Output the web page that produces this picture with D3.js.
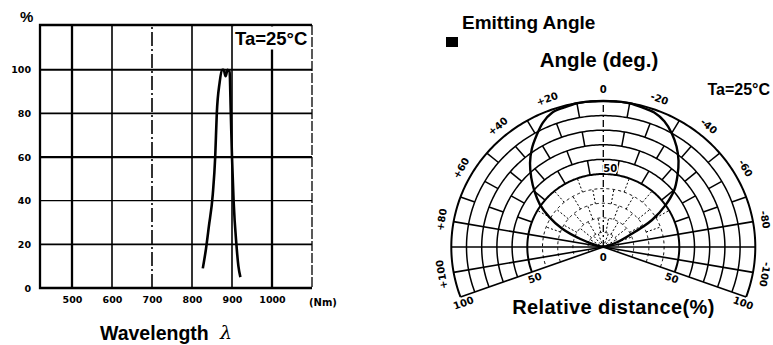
<!DOCTYPE html>
<html>
<head>
<meta charset="utf-8">
<script src="https://cdn.jsdelivr.net/npm/d3@7"></script>
<style>
  html, body { margin: 0; padding: 0; background: #fff; }
  svg { display: block; }
  .tick text { font-family: "DejaVu Sans", sans-serif; font-weight: bold; font-size: 9.5px; fill: #000; }
  .title { font-family: "Liberation Sans", Arial, sans-serif; font-weight: bold; fill: #000; }
  .small { font-family: "DejaVu Sans", sans-serif; font-weight: bold; font-size: 10px; fill: #000; }
</style>
</head>
<body>
<svg id="chart" width="773" height="345"></svg>
<script>
// ---- spectral response (left chart) ----
const wavelengths = [827, 835, 842, 852, 858, 862, 869, 875, 879, 884, 889, 894, 897, 900, 904, 911, 916, 921];
const intensity   = [9, 18, 28, 43, 60, 80, 94, 100, 100, 97, 100, 99, 80, 60, 40, 20, 10, 5];
const xTicks = [500, 600, 700, 800, 900, 1000];
const yTicks = [0, 20, 40, 60, 80, 100];

// ---- emitting angle (right chart) ----
const emitAngles = [-80, -75, -70, -65, -60, -55, -50, -45, -40, -35, -30, -25, -20, -15, -10, -5, 0,
                    5, 10, 15, 20, 25, 30, 35, 40, 45, 50, 55, 60, 65, 70, 75, 80];
const emitValues = [0, 2, 10, 19, 37, 50, 61, 69, 77, 84, 90, 95, 98, 99, 100, 100, 100,
                    100, 100, 99, 98, 94, 88, 82, 75, 67, 59, 51, 41, 30, 16, 5, 0];
const angleTicks = [-100, -80, -60, -40, -20, 0, 20, 40, 60, 80, 100];
const ringValues = [10, 20, 30, 40, 50, 60, 70, 80, 90, 100];
const distanceLabels = [50, 100];

const svg = d3.select('#chart');

/*************** Left chart ***************/
const plot = {left: 40, right: 312, top: 25, bottom: 288};

const x = d3.scaleLinear().domain([420, 1100]).range([plot.left, plot.right]);
const y = d3.scaleLinear().domain([0, 120.5]).range([plot.bottom, plot.top]);

// line weights
const vWidth = v => (v === 500 || v === 1000) ? 2.3 : 1.6;
const hWidth = v => (v === 100 || v === 60) ? 2.2 : (v === 40 ? 1.3 : 1.7);

const grid = svg.append('g');

grid.selectAll('.vgrid')
    .data(xTicks)
    .enter().append('line')
    .attr('x1', d => x(d)).attr('x2', d => x(d))
    .attr('y1', y(0)).attr('y2', plot.top)
    .attr('stroke', '#000')
    .attr('stroke-width', d => vWidth(d))
    .attr('stroke-dasharray', d => d === 700 ? '14,3,2,3' : null);

grid.selectAll('.hgrid')
    .data(yTicks.filter(d => d > 0))
    .enter().append('line')
    .attr('x1', plot.left).attr('x2', plot.right)
    .attr('y1', d => y(d)).attr('y2', d => y(d))
    .attr('stroke', '#000')
    .attr('stroke-width', d => hWidth(d));

// frame: heavy top/left/bottom, light dashed right side
svg.append('path')
    .attr('d', `M${plot.right},${plot.top}H${plot.left}V${plot.bottom}H${plot.right}`)
    .attr('fill', 'none').attr('stroke', '#000').attr('stroke-width', 2.3);
svg.append('line')
    .attr('x1', plot.right).attr('x2', plot.right)
    .attr('y1', plot.top).attr('y2', plot.bottom)
    .attr('stroke', '#000').attr('stroke-width', 1.3)
    .attr('stroke-dasharray', '10,2');

// clear patch under the temperature note
svg.append('rect')
    .attr('x', 234).attr('y', plot.top + 1.5)
    .attr('width', 76).attr('height', 23)
    .attr('fill', '#fff');
svg.append('text')
    .attr('class', 'title')
    .attr('x', 235).attr('y', 45)
    .style('font-size', '18.5px')
    .text('Ta=25°C');

// axes (labels only)
svg.append('g')
    .attr('transform', `translate(${plot.left},0)`)
    .call(d3.axisLeft(y).tickValues(yTicks).tickSize(0).tickPadding(9))
    .call(g => g.select('.domain').remove());

svg.append('g')
    .attr('transform', `translate(0,${plot.bottom})`)
    .call(d3.axisBottom(x).tickValues(xTicks).tickFormat(d3.format('d')).tickSize(0).tickPadding(8))
    .call(g => g.select('.domain').remove());

svg.append('text')
    .attr('class', 'small')
    .attr('x', 309).attr('y', 306)
    .text('(Nm)');

svg.append('text')
    .attr('class', 'title')
    .attr('x', 20).attr('y', 22)
    .style('font-size', '15px')
    .text('%');

// spectrum curve
const spectrum = d3.line()
    .x((d, i) => x(wavelengths[i]))
    .y(d => y(d))
    .curve(d3.curveMonotoneX);

svg.append('path')
    .datum(intensity)
    .attr('d', spectrum)
    .attr('fill', 'none')
    .attr('stroke', '#000')
    .attr('stroke-width', 2.6);

svg.append('text')
    .attr('class', 'title')
    .attr('x', 100).attr('y', 339.5)
    .style('font-size', '19.5px')
    .text('Wavelength');
svg.append('text')
    .attr('x', 220).attr('y', 338.5)
    .style('font-family', '"DejaVu Serif", serif')
    .style('font-style', 'italic')
    .style('font-size', '19px')
    .text('λ');

/*************** Right chart (polar) ***************/
const cx = 603.3, cy = 247;
const rX = d3.scaleLinear().domain([0, 100]).range([0, 152]);
const rY = d3.scaleLinear().domain([0, 100]).range([0, 146]);
const rad = a => a * Math.PI / 180;
const pt = (a, r) => [cx - Math.sin(rad(a)) * rX(r), cy - Math.cos(rad(a)) * rY(r)];
const maxAngle = 110;

const polar = svg.append('g');
const lineGen = d3.line();

// rings
polar.selectAll('.ring')
    .data(ringValues)
    .enter().append('path')
    .attr('d', r => lineGen(d3.range(-maxAngle, maxAngle + 0.5, 1).map(a => pt(a, r))))
    .attr('fill', 'none')
    .attr('stroke', '#000')
    .attr('stroke-width', r => (r === 100 || r === 50) ? 2 : (r > 50 ? 1.5 : 1))
    .attr('stroke-dasharray', r => r < 50 ? '3,3' : null);

// full-length spokes
const fullSpokes = [-110, -100, -90, -80, 0, 80, 90, 100, 110];
polar.selectAll('.spoke')
    .data(fullSpokes)
    .enter().append('path')
    .attr('d', a => lineGen([pt(a, 0), pt(a, 100)]))
    .attr('stroke', '#000')
    .attr('stroke-width', a => a === 0 ? 1.3 : 1.6)
    .attr('stroke-dasharray', a => a === 0 ? '7,3,2,3' : null);

// staggered (brick) spoke segments between rings
const segs = [];
ringValues.forEach((r, k) => {
  const inner = r - 10;
  d3.range(-70, 71, 10).forEach(a => {
    if (a === 0) return;
    if ((Math.abs(a) / 10 + (9 - k)) % 2 === 1) segs.push({a, r0: inner, r1: r});
  });
});
polar.selectAll('.seg')
    .data(segs)
    .enter().append('path')
    .attr('d', s => lineGen([pt(s.a, s.r0), pt(s.a, s.r1)]))
    .attr('stroke', '#000')
    .attr('stroke-width', s => s.r1 > 50 ? 1.5 : 1)
    .attr('stroke-dasharray', s => s.r1 > 50 ? null : '2,2');

// emission lobe
polar.append('path')
    .datum(emitAngles.map((a, i) => pt(a, emitValues[i])))
    .attr('d', d3.line().curve(d3.curveCatmullRom))
    .attr('fill', 'none')
    .attr('stroke', '#000')
    .attr('stroke-width', 2.4);

// angle labels
polar.selectAll('.alabel')
    .data(angleTicks)
    .enter().append('text')
    .attr('class', 'small')
    .attr('text-anchor', 'middle')
    .attr('dominant-baseline', 'central')
    .attr('transform', a => {
      const p = pt(a, 108);
      return `translate(${p[0]},${p[1]}) rotate(${-a})`;
    })
    .text(a => a > 0 ? '+' + a : (a < 0 ? '-' + (-a) : '0'));

// distance labels along both lower edges
[-maxAngle, maxAngle].forEach(edge => {
  const rot = Math.sign(edge) * 90 - edge;
  polar.selectAll(null)
      .data(distanceLabels)
      .enter().append('text')
      .attr('class', 'small')
      .attr('text-anchor', 'middle')
      .attr('dominant-baseline', 'central')
      .attr('transform', r => {
        const p = pt(edge, r);
        return `translate(${p[0] + (edge > 0 ? 3 : -3)},${p[1] + 6}) rotate(${rot})`;
      })
      .text(r => r);
});

const top50 = pt(0, 50);
polar.append('text')
    .attr('class', 'small')
    .attr('x', top50[0] + 7).attr('y', top50[1] - 6)
    .attr('text-anchor', 'middle')
    .attr('dominant-baseline', 'central')
    .attr('stroke', '#fff').attr('stroke-width', 3).attr('paint-order', 'stroke')
    .text('50');

polar.append('text')
    .attr('class', 'small')
    .attr('x', cx).attr('y', cy + 10)
    .attr('text-anchor', 'middle')
    .attr('dominant-baseline', 'central')
    .text('0');

// titles
svg.append('rect')
    .attr('x', 446).attr('y', 37)
    .attr('width', 12).attr('height', 10)
    .attr('fill', '#000');
svg.append('text')
    .attr('class', 'title')
    .attr('x', 462).attr('y', 29)
    .style('font-size', '19px')
    .text('Emitting Angle');
svg.append('text')
    .attr('class', 'title')
    .attr('x', 599).attr('y', 67)
    .attr('text-anchor', 'middle')
    .style('font-size', '20.5px')
    .text('Angle (deg.)');
svg.append('text')
    .attr('class', 'title')
    .attr('x', 770).attr('y', 95)
    .attr('text-anchor', 'end')
    .style('font-size', '16px')
    .text('Ta=25°C');
svg.append('text')
    .attr('class', 'title')
    .attr('x', 613.5).attr('y', 313.5)
    .attr('text-anchor', 'middle')
    .style('font-size', '20px')
    .style('letter-spacing', '0.4px')
    .text('Relative distance(%)');
</script>
</body>
</html>
